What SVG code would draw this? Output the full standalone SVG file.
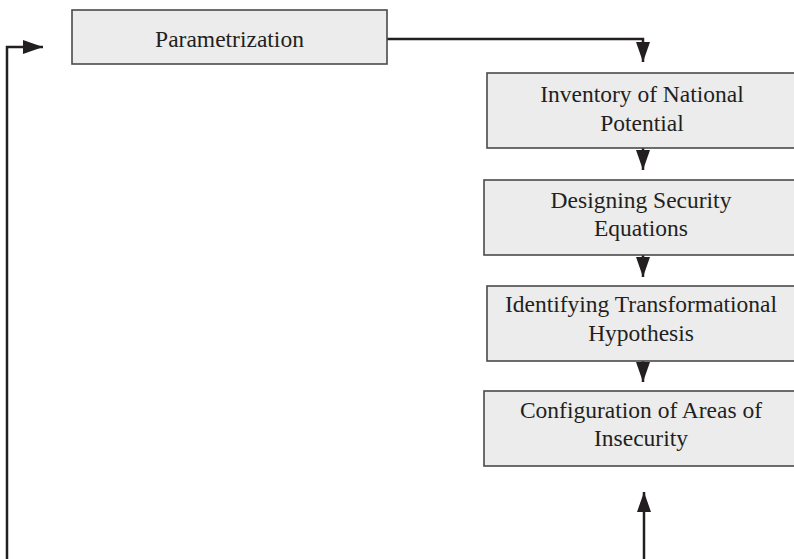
<svg xmlns="http://www.w3.org/2000/svg" width="794" height="559" viewBox="0 0 794 559">
  <defs>
    <style>
      .box { fill: #ececec; stroke: #4a4a4a; stroke-width: 1.6; }
      .lbl { font-family: "Liberation Serif", "Times New Roman", serif; font-size: 23.5px; fill: #231f20; text-anchor: middle; }
      .conn { fill: none; stroke: #231f20; stroke-width: 2.5; }
    </style>
    <marker id="ah" markerUnits="userSpaceOnUse" markerWidth="20" markerHeight="14" refX="20" refY="7" orient="auto">
      <path d="M0,0 L20,7 L0,14 Z" fill="#231f20"/>
    </marker>
  </defs>
  <rect width="794" height="559" fill="#ffffff"/>

  <g id="connectors">
    <path class="conn" d="M387,39 H643 V62" marker-end="url(#ah)"/>
    <path class="conn" d="M643,148 V170" marker-end="url(#ah)"/>
    <path class="conn" d="M643,255 V277" marker-end="url(#ah)"/>
    <path class="conn" d="M643,361 V382" marker-end="url(#ah)"/>
    <path class="conn" d="M644,559 V492" marker-end="url(#ah)"/>
    <path class="conn" d="M7,559 V47 H43" marker-end="url(#ah)"/>
  </g>

  <g id="parametrization">
    <rect class="box" x="72" y="10" width="315" height="54"/>
    <text class="lbl" x="229.5" y="47">Parametrization</text>
  </g>

  <g id="inventory">
    <rect class="box" x="487" y="73" width="312" height="75"/>
    <text class="lbl" x="642" y="102">Inventory of National</text>
    <text class="lbl" x="642" y="131">Potential</text>
  </g>

  <g id="designing">
    <rect class="box" x="484" y="180" width="315" height="75"/>
    <text class="lbl" x="641" y="208">Designing Security</text>
    <text class="lbl" x="641" y="236">Equations</text>
  </g>

  <g id="identifying">
    <rect class="box" x="487" y="286" width="312" height="75"/>
    <text class="lbl" x="641" y="312">Identifying Transformational</text>
    <text class="lbl" x="641" y="341">Hypothesis</text>
  </g>

  <g id="configuration">
    <rect class="box" x="484" y="391" width="315" height="75"/>
    <text class="lbl" x="641" y="418">Configuration of Areas of</text>
    <text class="lbl" x="641" y="446">Insecurity</text>
  </g>
</svg>
